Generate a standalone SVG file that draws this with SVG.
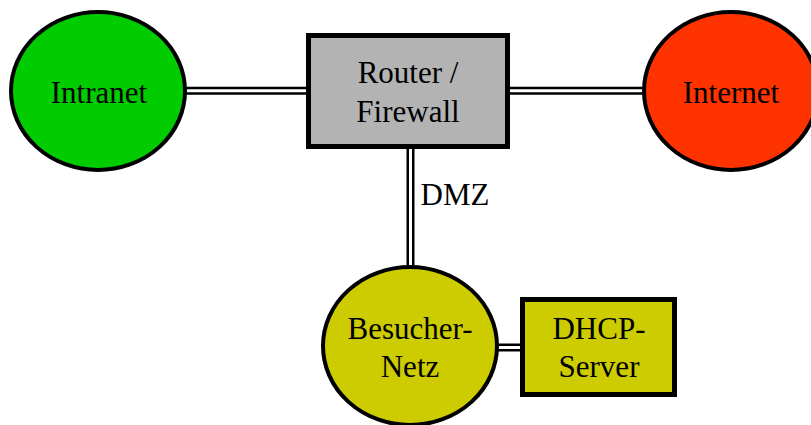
<svg xmlns="http://www.w3.org/2000/svg" width="811" height="425" viewBox="0 0 811 425">
<style>
.node{stroke:#000;stroke-width:4}
.box{stroke:#000;stroke-width:5}
.lbl{font-family:"Liberation Serif","Times New Roman",serif;font-size:31px;fill:#000;text-anchor:middle}
.outer{stroke:#000;stroke-width:8;fill:none}
.inner{stroke:#fff;stroke-width:3;fill:none}
</style>
<rect width="811" height="425" fill="#fff"/>
<g id="connectors">
<path class="outer" d="M185 90.7H309M508 90.7H644M410.5 147V268M497 347.5H523"/>
<path class="inner" d="M185 90.7H309M508 90.7H644M410.5 147V268M497 347.5H523"/>
</g>
<g id="intranet">
<ellipse class="node" cx="98" cy="91" rx="87" ry="79" fill="#00cc00"/>
<text class="lbl" x="99" y="103">Intranet</text>
</g>
<g id="router">
<rect class="box" x="308.5" y="35.5" width="199" height="111" fill="#b3b3b3"/>
<text class="lbl" x="408" y="83">Router /</text>
<text class="lbl" x="408" y="122">Firewall</text>
</g>
<g id="internet">
<ellipse class="node" cx="731" cy="91" rx="87" ry="79" fill="#ff3300"/>
<text class="lbl" x="731" y="103">Internet</text>
</g>
<g id="dmz-label">
<text class="lbl" x="455" y="205">DMZ</text>
</g>
<g id="besucher">
<ellipse class="node" cx="410" cy="346" rx="87" ry="79" fill="#cccc00"/>
<text class="lbl" x="410" y="339">Besucher-</text>
<text class="lbl" x="410" y="377">Netz</text>
</g>
<g id="dhcp">
<rect class="box" x="522.5" y="299.5" width="152" height="95" fill="#cccc00"/>
<text class="lbl" x="599" y="339">DHCP-</text>
<text class="lbl" x="599" y="377">Server</text>
</g>
</svg>
